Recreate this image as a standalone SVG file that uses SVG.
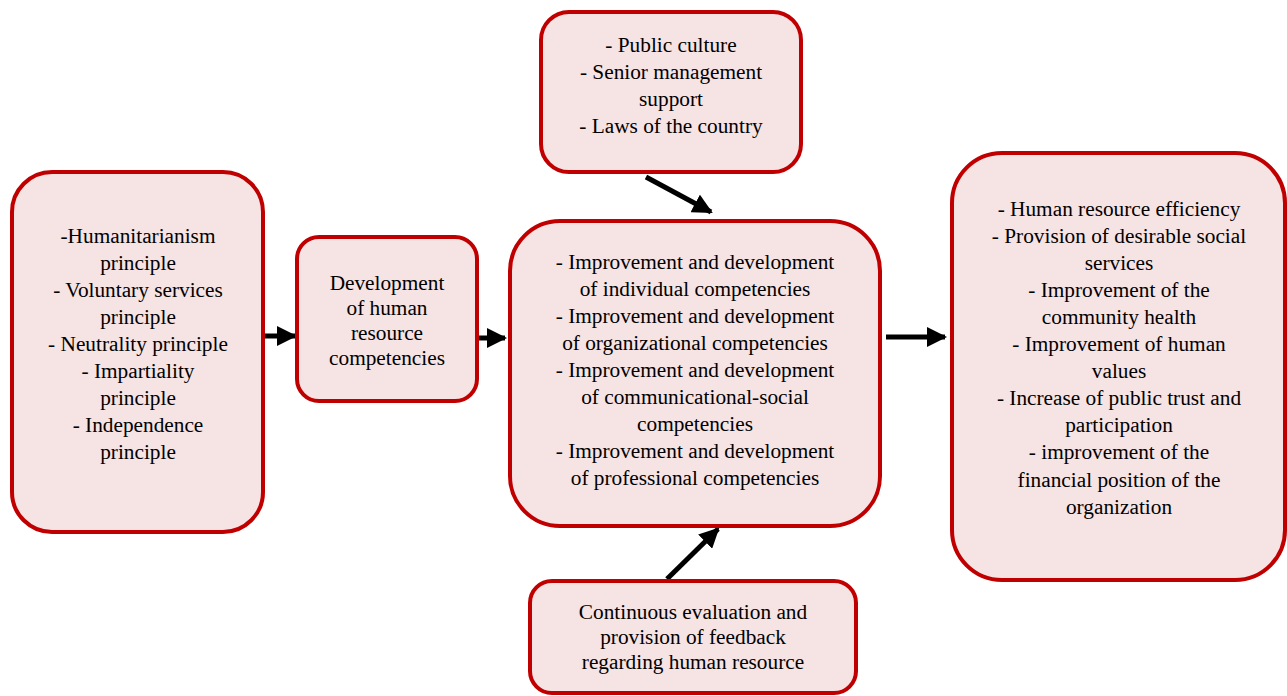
<svg xmlns="http://www.w3.org/2000/svg" width="1287" height="696" viewBox="0 0 1287 696">
<defs>
<style>
.box{fill:#f6e3e4;stroke:#c00000;stroke-width:4}
.t{font-size:21.3px;fill:#000;text-anchor:middle}
.arr{stroke:#000;stroke-width:5;fill:none;marker-end:url(#ah)}
</style>
<marker id="ah" viewBox="0 0 10 10" refX="9" refY="5" markerWidth="4" markerHeight="4" orient="auto" markerUnits="strokeWidth">
<path d="M0,0 L10,5 L0,10 z" fill="#000"/>
</marker>
</defs>
<rect width="1287" height="696" fill="#fff"/>
<g id="connectors">
<line class="arr" x1="259" y1="336" x2="295" y2="336"/>
<line class="arr" x1="477" y1="338" x2="505" y2="338"/>
<line class="arr" x1="646" y1="177" x2="711" y2="212"/>
<line class="arr" x1="667" y1="579" x2="718" y2="529"/>
<line class="arr" x1="886" y1="337" x2="945" y2="337"/>
</g>
<g id="principles" class="t">
<rect class="box" x="12" y="172" width="251" height="360" rx="40"/>
<text font-family="Liberation Serif" x="138" y="243">-Humanitarianism</text>
<text font-family="Liberation Serif" x="138" y="270">principle</text>
<text font-family="Liberation Serif" x="138" y="297">- Voluntary services</text>
<text font-family="Liberation Serif" x="138" y="324">principle</text>
<text font-family="Liberation Serif" x="138" y="351">- Neutrality principle</text>
<text font-family="Liberation Serif" x="138" y="378">- Impartiality</text>
<text font-family="Liberation Serif" x="138" y="405">principle</text>
<text font-family="Liberation Serif" x="138" y="432">- Independence</text>
<text font-family="Liberation Serif" x="138" y="459">principle</text>
</g>
<g id="development" class="t">
<rect class="box" x="297" y="237" width="180" height="164" rx="22"/>
<text font-family="Liberation Serif" x="387" y="290">Development</text>
<text font-family="Liberation Serif" x="387" y="315">of human</text>
<text font-family="Liberation Serif" x="387" y="340">resource</text>
<text font-family="Liberation Serif" x="387" y="365">competencies</text>
</g>
<g id="context" class="t">
<rect class="box" x="541" y="12" width="260" height="160" rx="28"/>
<text font-family="Liberation Serif" x="671" y="52">- Public culture</text>
<text font-family="Liberation Serif" x="671" y="79">- Senior management</text>
<text font-family="Liberation Serif" x="671" y="106">support</text>
<text font-family="Liberation Serif" x="671" y="133">- Laws of the country</text>
</g>
<g id="competencies" class="t">
<rect class="box" x="510" y="221" width="370" height="305" rx="50"/>
<text font-family="Liberation Serif" x="695" y="269">- Improvement and development</text>
<text font-family="Liberation Serif" x="695" y="296">of individual competencies</text>
<text font-family="Liberation Serif" x="695" y="323">- Improvement and development</text>
<text font-family="Liberation Serif" x="695" y="350">of organizational competencies</text>
<text font-family="Liberation Serif" x="695" y="377">- Improvement and development</text>
<text font-family="Liberation Serif" x="695" y="404">of communicational-social</text>
<text font-family="Liberation Serif" x="695" y="431">competencies</text>
<text font-family="Liberation Serif" x="695" y="458">- Improvement and development</text>
<text font-family="Liberation Serif" x="695" y="485">of professional competencies</text>
</g>
<g id="evaluation" class="t">
<rect class="box" x="530" y="581" width="326" height="112" rx="22"/>
<text font-family="Liberation Serif" x="693" y="619">Continuous evaluation and</text>
<text font-family="Liberation Serif" x="693" y="644">provision of feedback</text>
<text font-family="Liberation Serif" x="693" y="669">regarding human resource</text>
</g>
<g id="outcomes" class="t">
<rect class="box" x="952" y="153" width="333" height="427" rx="50"/>
<text font-family="Liberation Serif" x="1119" y="216">- Human resource efficiency</text>
<text font-family="Liberation Serif" x="1119" y="243">- Provision of desirable social</text>
<text font-family="Liberation Serif" x="1119" y="270">services</text>
<text font-family="Liberation Serif" x="1119" y="297">- Improvement of the</text>
<text font-family="Liberation Serif" x="1119" y="324">community health</text>
<text font-family="Liberation Serif" x="1119" y="351">- Improvement of human</text>
<text font-family="Liberation Serif" x="1119" y="378">values</text>
<text font-family="Liberation Serif" x="1119" y="405">- Increase of public trust and</text>
<text font-family="Liberation Serif" x="1119" y="432">participation</text>
<text font-family="Liberation Serif" x="1119" y="459">- improvement of the</text>
<text font-family="Liberation Serif" x="1119" y="487">financial position of the</text>
<text font-family="Liberation Serif" x="1119" y="514">organization</text>
</g>
</svg>
